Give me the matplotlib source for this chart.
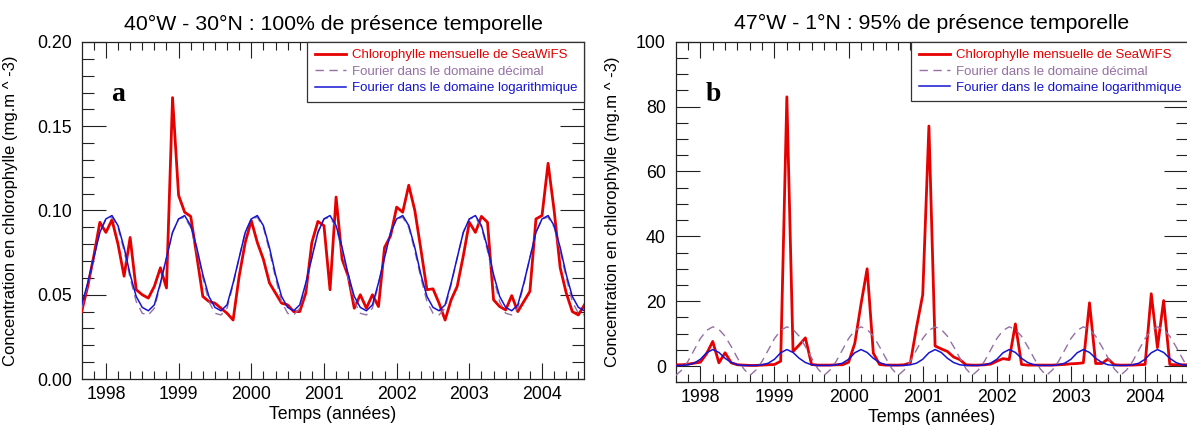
import matplotlib
matplotlib.use("Agg")
import matplotlib.pyplot as plt
from matplotlib.ticker import MultipleLocator, FormatStrFormatter
import numpy as np

plt.rcParams["font.family"] = ["Liberation Sans", "DejaVu Sans"]

RED = "#e60000"
PURPLE = "#9470a4"
BLUE = "#1414d2"

# monthly samples, Sep 1997 .. Aug 2004
START_YEAR = 1997
START_MONTH = 9
N_MONTHS = 84
months = START_YEAR + (START_MONTH - 1 + np.arange(N_MONTHS)) / 12.0

# panel a : 40W - 30N  (mg.m^-3)
chl_a = [
    0.040, 0.055, 0.073, 0.093,
    0.087, 0.0945, 0.080, 0.061, 0.084, 0.053, 0.050, 0.048, 0.055, 0.066, 0.054, 0.167,
    0.109, 0.099, 0.0965, 0.073, 0.049, 0.046, 0.045, 0.042, 0.039, 0.035, 0.061, 0.081,
    0.094, 0.081, 0.071, 0.057, 0.051, 0.045, 0.044, 0.040, 0.040, 0.051, 0.081, 0.0935,
    0.091, 0.053, 0.108, 0.071, 0.061, 0.042, 0.050, 0.042, 0.050, 0.043, 0.078, 0.085,
    0.102, 0.099, 0.115, 0.100, 0.077, 0.053, 0.0535, 0.045, 0.035, 0.047, 0.055, 0.073,
    0.093, 0.087, 0.0965, 0.093, 0.047, 0.043, 0.041, 0.0495, 0.040, 0.046, 0.052, 0.095,
    0.097, 0.128, 0.100, 0.066, 0.051, 0.040, 0.038, 0.044,
]
fourier_dec_a = [
    0.042, 0.056, 0.072, 0.087,
    0.095, 0.096, 0.090, 0.076, 0.060, 0.046, 0.039, 0.038, 0.042, 0.056, 0.072, 0.087,
    0.095, 0.096, 0.090, 0.076, 0.060, 0.046, 0.039, 0.038, 0.042, 0.056, 0.072, 0.087,
    0.095, 0.096, 0.090, 0.076, 0.060, 0.046, 0.039, 0.038, 0.042, 0.056, 0.072, 0.087,
    0.095, 0.096, 0.090, 0.076, 0.060, 0.046, 0.039, 0.038, 0.042, 0.056, 0.072, 0.087,
    0.095, 0.096, 0.090, 0.076, 0.060, 0.046, 0.039, 0.038, 0.042, 0.056, 0.072, 0.087,
    0.095, 0.096, 0.090, 0.076, 0.060, 0.046, 0.039, 0.038, 0.042, 0.056, 0.072, 0.087,
    0.095, 0.096, 0.090, 0.076, 0.060, 0.046, 0.039, 0.038,
]
fourier_log_a = [
    0.044, 0.057, 0.072, 0.087,
    0.095, 0.097, 0.091, 0.078, 0.062, 0.049, 0.0425, 0.0405, 0.044, 0.057, 0.072, 0.087,
    0.095, 0.097, 0.091, 0.078, 0.062, 0.049, 0.0425, 0.0405, 0.044, 0.057, 0.072, 0.087,
    0.095, 0.097, 0.091, 0.078, 0.062, 0.049, 0.0425, 0.0405, 0.044, 0.057, 0.072, 0.087,
    0.095, 0.097, 0.091, 0.078, 0.062, 0.049, 0.0425, 0.0405, 0.044, 0.057, 0.072, 0.087,
    0.095, 0.097, 0.091, 0.078, 0.062, 0.049, 0.0425, 0.0405, 0.044, 0.057, 0.072, 0.087,
    0.095, 0.097, 0.091, 0.078, 0.062, 0.049, 0.0425, 0.0405, 0.044, 0.057, 0.072, 0.087,
    0.095, 0.097, 0.091, 0.078, 0.062, 0.049, 0.0425, 0.0405,
]

# panel b : 47W - 1N  (mg.m^-3)
chl_b = [
    0.4, 0.4, 0.6, 0.9,
    1.2, 3.8, 7.6, 1.0, 4.1, 1.0, 0.4, 0.3, 0.2, 0.2, 0.3, 0.4,
    0.5, 1.5, 83.0, 4.5, 6.5, 8.7, 0.5, 0.3, 0.3, 0.3, 0.4, 0.4,
    1.2, 7.0, 19.0, 30.0, 4.0, 0.5, 0.3, 0.3, 0.3, 0.4, 1.0, 12.0,
    22.0, 74.0, 6.2, 5.3, 4.5, 2.8, 2.0, 0.4, 0.3, 0.3, 0.4, 0.6,
    1.5, 2.3, 2.0, 13.0, 0.5, 0.3, 0.3, 0.3, 0.3, 0.3, 0.4, 0.5,
    0.7, 0.8, 1.0, 19.5, 0.8, 0.8, 2.2, 0.4, 0.3, 0.3, 0.3, 0.4,
    0.5, 22.3, 5.7, 20.2, 0.5, 0.4, 0.4, 0.4,
]
fourier_dec_b = [
    -2.9, -1.2, 1.5, 5.0,
    8.5, 11.0, 12.1, 11.3, 9.2, 6.0, 2.5, -0.8, -2.9, -1.2, 1.5, 5.0,
    8.5, 11.0, 12.1, 11.3, 9.2, 6.0, 2.5, -0.8, -2.9, -1.2, 1.5, 5.0,
    8.5, 11.0, 12.1, 11.3, 9.2, 6.0, 2.5, -0.8, -2.9, -1.2, 1.5, 5.0,
    8.5, 11.0, 12.1, 11.3, 9.2, 6.0, 2.5, -0.8, -2.9, -1.2, 1.5, 5.0,
    8.5, 11.0, 12.1, 11.3, 9.2, 6.0, 2.5, -0.8, -2.9, -1.2, 1.5, 5.0,
    8.5, 11.0, 12.1, 11.3, 9.2, 6.0, 2.5, -0.8, -2.9, -1.2, 1.5, 5.0,
    8.5, 11.0, 12.1, 11.3, 9.2, 6.0, 2.5, -0.8,
]
fourier_log_b = [
    0.2, 0.2, 0.4, 0.9,
    2.1, 4.1, 5.1, 4.2, 2.4, 1.1, 0.4, 0.2, 0.2, 0.2, 0.4, 0.9,
    2.1, 4.1, 5.1, 4.2, 2.4, 1.1, 0.4, 0.2, 0.2, 0.2, 0.4, 0.9,
    2.1, 4.1, 5.1, 4.2, 2.4, 1.1, 0.4, 0.2, 0.2, 0.2, 0.4, 0.9,
    2.1, 4.1, 5.1, 4.2, 2.4, 1.1, 0.4, 0.2, 0.2, 0.2, 0.4, 0.9,
    2.1, 4.1, 5.1, 4.2, 2.4, 1.1, 0.4, 0.2, 0.2, 0.2, 0.4, 0.9,
    2.1, 4.1, 5.1, 4.2, 2.4, 1.1, 0.4, 0.2, 0.2, 0.2, 0.4, 0.9,
    2.1, 4.1, 5.1, 4.2, 2.4, 1.1, 0.4, 0.2,
]

YEARS = [1998, 1999, 2000, 2001, 2002, 2003, 2004]
X_LIM = (1997.667, 2004.583)

LABELS = [
    "Chlorophylle mensuelle de SeaWiFS",
    "Fourier dans le domaine décimal",
    "Fourier dans le domaine logarithmique",
]


def _draw_panel(ax, chl, fdec, flog, title, letter, ylim, ymajor, yminor, yfmt):
    ax.plot(months, chl, color=RED, linewidth=2.0, label=LABELS[0], zorder=3)
    ax.plot(months, fdec, color=PURPLE, linewidth=1.0, linestyle=(0, (6, 4)),
            label=LABELS[1], zorder=4)
    ax.plot(months, flog, color=BLUE, linewidth=1.1, label=LABELS[2], zorder=5)

    ax.set_xlim(*X_LIM)
    ax.set_ylim(*ylim)
    ax.set_xticks(YEARS)
    ax.xaxis.set_minor_locator(MultipleLocator(1 / 6))
    ax.yaxis.set_major_locator(MultipleLocator(ymajor))
    ax.yaxis.set_minor_locator(MultipleLocator(yminor))
    ax.yaxis.set_major_formatter(FormatStrFormatter(yfmt))

    ax.tick_params(which="both", direction="in", top=True, right=True,
                   color="#222222", width=0.8, labelsize=12.8)
    ax.tick_params(axis="x", which="major", length=11.5, pad=5)
    ax.tick_params(axis="x", which="minor", length=5.8)
    ax.tick_params(axis="y", which="major", length=17.5, pad=7)
    ax.tick_params(axis="y", which="minor", length=8.8)
    for sp in ax.spines.values():
        sp.set_linewidth(0.9)
        sp.set_color("#222222")

    ax.set_title(title, fontsize=15.3, pad=9)
    ax.set_xlabel("Temps (années)", fontsize=12.8, labelpad=2)
    ax.set_ylabel("Concentration en chlorophylle (mg.m ^ -3)", fontsize=12)

    leg = ax.legend(loc="upper right", borderaxespad=0, fontsize=9.5,
                    fancybox=False, framealpha=1, edgecolor="#333333",
                    handlelength=2.4, handletextpad=0.4, labelspacing=0.32,
                    borderpad=0.55, labelcolor="linecolor")
    leg.get_frame().set_linewidth(0.9)

    ax.text(0.058, 0.845, letter, transform=ax.transAxes, fontsize=20,
            fontweight="bold", family=["Liberation Serif", "DejaVu Serif"],
            va="center", ha="left")


fig = plt.figure(figsize=(11.87, 4.25), dpi=100)
ax_a = fig.add_axes([81.7 / 1187, 46 / 425, 502.7 / 1187, 337 / 425])
ax_b = fig.add_axes([675.7 / 1187, 42.7 / 425, 512.6 / 1187, 340.6 / 425])

_draw_panel(ax_a, chl_a, fourier_dec_a, fourier_log_a,
            "40°W - 30°N : 100% de présence temporelle", "a",
            (0.0, 0.2), 0.05, 0.01, "%.2f")
_draw_panel(ax_b, chl_b, fourier_dec_b, fourier_log_b,
            "47°W - 1°N : 95% de présence temporelle", "b",
            (-5, 100), 20, 5, "%d")

ax_a.yaxis.set_label_coords(-0.127, 0.5)
ax_b.yaxis.set_label_coords(-0.109, 0.5)

fig.savefig("out.png", dpi=100)
